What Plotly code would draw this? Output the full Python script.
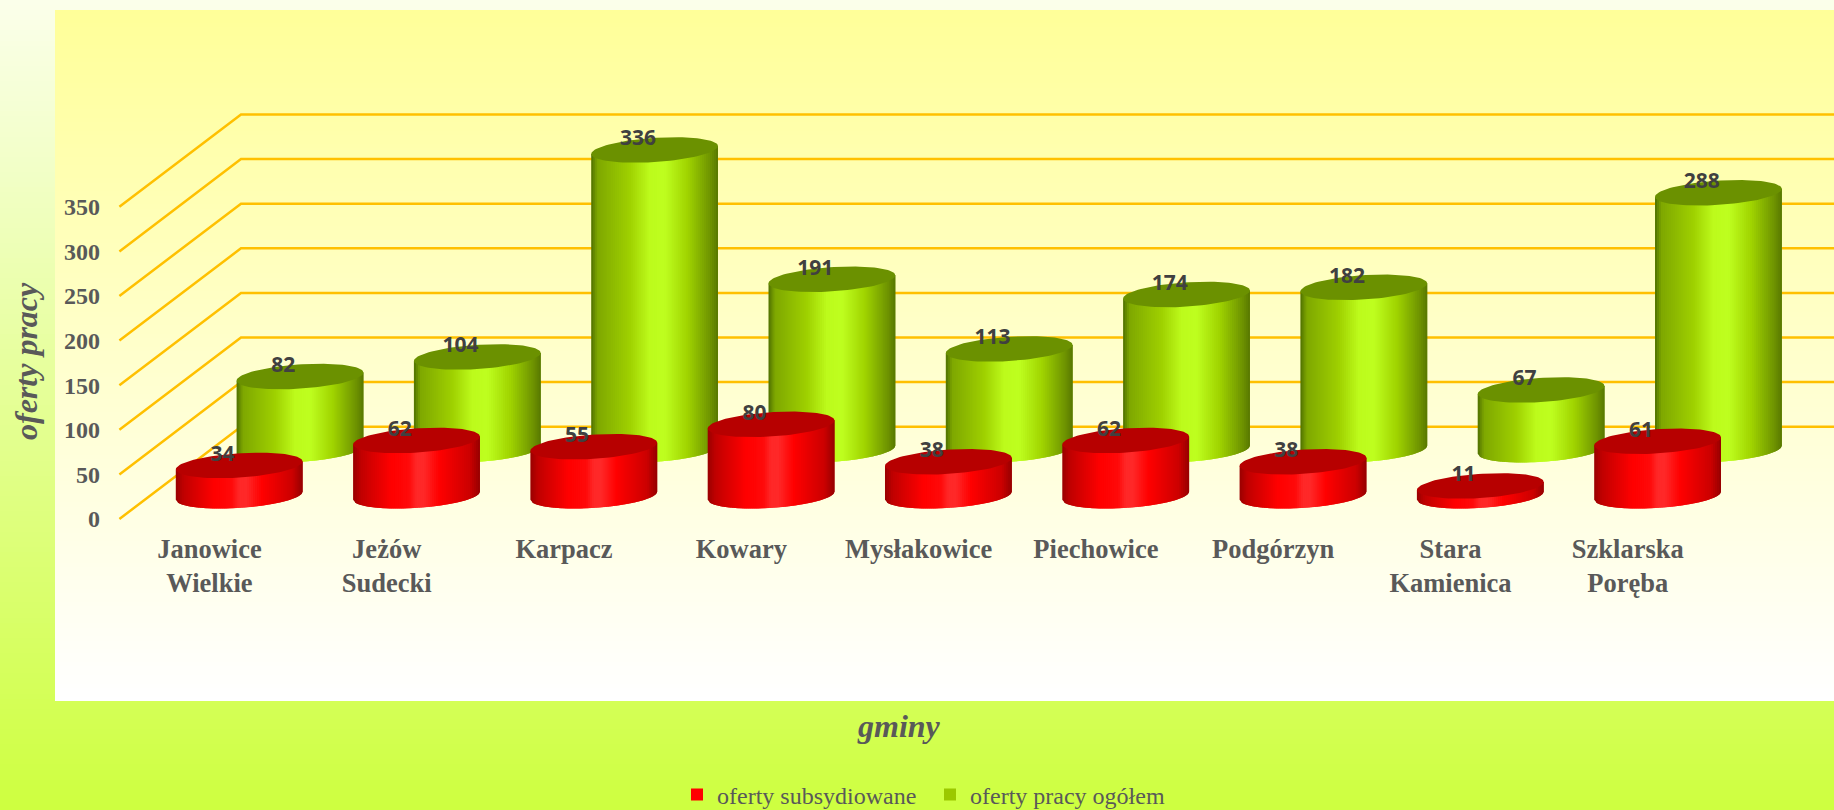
import numpy as np
import plotly.graph_objects as go

# ---------- data ----------
categories = ["Janowice<br>Wielkie", "Jeżów<br>Sudecki", "Karpacz", "Kowary", "Mysłakowice",
              "Piechowice", "Podgórzyn", "Stara<br>Kamienica", "Szklarska<br>Poręba"]
subsidised = [34, 62, 55, 80, 38, 62, 38, 11, 61]
total_offers = [82, 104, 336, 191, 113, 174, 182, 67, 288]
y_ticks = [0, 50, 100, 150, 200, 250, 300, 350]
series_names = ["oferty subsydiowane", "oferty pracy ogółem"]

# ---------- page geometry ----------
W, H = 1834, 810
X_UNIT = 177.3      # px per category
Y_UNIT = 0.892      # px per value unit
X0_PX, Y0_PX = 209.4, 519.0   # pixel of category 0 and value 0
x_range = [-X0_PX / X_UNIT, (W - X0_PX) / X_UNIT]
y_range = [-(H - Y0_PX) / Y_UNIT, Y0_PX / Y_UNIT]

DEPTH_X = 121.6 / X_UNIT
DEPTH_Y = 92.3 / Y_UNIT
FLOOR_LEFT = (119.4 - X0_PX) / X_UNIT
HALF_W = 63.4 / X_UNIT
ELL_H = 13.6        # value units, half-height of the ellipse
SHEAR = 4.5         # value units, rise of right end of the ellipse
N_BANDS = 64

GREEN_STYLE = dict(offset=0.511, base=77.7, top="#6B9100",
                   stops=[(0, "#4F7000"), (0.05, "#7FA800"), (0.3, "#9FD000"), (0.46, "#BDFB1C"),
                          (0.58, "#BFFF20"), (0.76, "#A0D400"), (0.95, "#6C9000"), (1, "#587800")])
RED_STYLE = dict(offset=0.168, base=26.1, top="#B70000",
                 stops=[(0, "#9A0000"), (0.06, "#C00000"), (0.3, "#FF0000"), (0.44, "#FF0A0A"),
                        (0.5, "#FF2828"), (0.56, "#FF2828"), (0.68, "#FF0000"), (0.92, "#CC0000"), (1, "#960000")])


def hex_rgb(c):
    return np.array([int(c[i:i + 2], 16) for i in (1, 3, 5)], float)


def band_colour(stops, f):
    p = [s[0] for s in stops]
    cols = np.array([hex_rgb(s[1]) for s in stops])
    return "rgb(%d,%d,%d)" % tuple(np.interp(f, p, cols[:, i]) for i in range(3))


def mix(c0, c1, n):
    a, b = hex_rgb(c0), hex_rgb(c1)
    return [[i / (n - 1), "rgb(%d,%d,%d)" % tuple(a + (b - a) * i / (n - 1))] for i in (0, n - 1)]


fig = go.Figure()

# ---------- backgrounds (pixel axes x / y) ----------
rows = 160
fig.add_trace(go.Heatmap(x=[0, W], y=np.linspace(0, H, rows + 1).tolist(),
                         z=[[i] for i in range(rows)], colorscale=mix("#FBFFEA", "#CEFF40", 2),
                         showscale=False, hoverinfo="skip", xaxis="x", yaxis="y"))
fig.add_trace(go.Heatmap(x=[55, W], y=np.linspace(10, 701, rows + 1).tolist(),
                         z=[[i] for i in range(rows)], colorscale=mix("#FFFF99", "#FFFFFF", 2),
                         showscale=False, hoverinfo="skip", xaxis="x", yaxis="y"))

# ---------- legend entries ----------
for name, colour in zip(series_names, ["#FF0000", "#9BC800"]):
    fig.add_trace(go.Scatter(x=[None], y=[None], mode="markers", name=name,
                             marker=dict(symbol="square", size=12, color=colour),
                             xaxis="x2", yaxis="y2"))

# ---------- grid walls ----------
gx, gy = [], []
for t in y_ticks:
    gx += [FLOOR_LEFT, FLOOR_LEFT + DEPTH_X, x_range[1], None]
    gy += [t, t + DEPTH_Y, t + DEPTH_Y, None]
fig.add_trace(go.Scatter(x=gx, y=gy, mode="lines", line=dict(color="#FFC000", width=2.5),
                         showlegend=False, hoverinfo="skip", xaxis="x2", yaxis="y2"))


def add_cylinders(values, style):
    centres = [i + style["offset"] for i in range(len(values))]
    edges = np.linspace(-1, 1, N_BANDS + 1)
    for k in range(N_BANDS):
        u0, u1 = edges[k], edges[min(k + 2, N_BANDS)]
        us = np.linspace(u0, u1, 4)
        xs, ys = [], []
        for c, v in zip(centres, values):
            bottom = style["base"] + SHEAR * us - ELL_H * np.sqrt(np.clip(1 - us ** 2, 0, 1))
            top = style["base"] + v + SHEAR * us
            xs += list(c + HALF_W * us) + list(c + HALF_W * us[::-1]) + [None]
            ys += list(bottom) + list(top[::-1]) + [None]
        fig.add_trace(go.Scatter(x=xs, y=ys, mode="lines", line=dict(width=0), fill="toself",
                                 fillcolor=band_colour(style["stops"], (k + 0.5) / N_BANDS),
                                 showlegend=False, hoverinfo="skip", xaxis="x2", yaxis="y2"))
    th = np.linspace(0, 2 * np.pi, 91)
    xs, ys = [], []
    for c, v in zip(centres, values):
        xs += list(c + HALF_W * np.cos(th)) + [None]
        ys += list(style["base"] + v + SHEAR * np.cos(th) + ELL_H * np.sin(th)) + [None]
    fig.add_trace(go.Scatter(x=xs, y=ys, mode="lines", line=dict(width=0), fill="toself",
                             fillcolor=style["top"], showlegend=False, hoverinfo="skip",
                             xaxis="x2", yaxis="y2"))


add_cylinders(total_offers, GREEN_STYLE)
add_cylinders(subsidised, RED_STYLE)

# ---------- value labels ----------
for values, style in ((total_offers, GREEN_STYLE), (subsidised, RED_STYLE)):
    fig.add_trace(go.Scatter(
        x=[i + style["offset"] - 0.094 for i in range(len(values))],
        y=[style["base"] + v + 11 for v in values],
        mode="text", text=[str(v) for v in values], textposition="middle center",
        textfont=dict(family="Noto Sans", size=21, color="#404040", weight=700),
        showlegend=False, hoverinfo="skip", xaxis="x2", yaxis="y2"))

# ---------- layout ----------
fig.update_layout(
    width=W, height=H,
    margin=dict(l=0, r=0, t=0, b=0, pad=0, autoexpand=False),
    paper_bgcolor="#FFFFFF", plot_bgcolor="rgba(0,0,0,0)",
    hovermode=False,
    xaxis=dict(domain=[0, 1], range=[0, W], visible=False, fixedrange=True),
    yaxis=dict(domain=[0, 1], range=[H, 0], visible=False, fixedrange=True),
    xaxis2=dict(overlaying="x", anchor="free", position=1 - 530.5 / H, range=x_range,
                tickmode="array", tickvals=list(range(len(categories))), ticktext=categories,
                tickfont=dict(family="Liberation Serif", size=26.5, color="#595959", weight=700),
                ticks="", showgrid=False, zeroline=False, showline=False, fixedrange=True),
    yaxis2=dict(overlaying="y", anchor="free", position=100 / W, side="left", range=y_range,
                tickmode="array", tickvals=y_ticks,
                tickfont=dict(family="Liberation Serif", size=24, color="#595959", weight=700),
                ticks="", showgrid=False, zeroline=False, showline=False, fixedrange=True),
    legend=dict(orientation="h", x=677 / W, xanchor="left", y=1 - 772.5 / H, yanchor="top",
                font=dict(family="Liberation Serif", size=24, color="#595959"),
                bgcolor="rgba(0,0,0,0)", entrywidthmode="pixels", entrywidth=208,
                itemclick=False, itemdoubleclick=False),
    annotations=[
        dict(text="oferty pracy", xref="paper", yref="paper", x=26 / W, y=1 - 361 / H, textangle=-90,
             showarrow=False, xanchor="center", yanchor="middle",
             font=dict(family="Liberation Serif", size=32, color="#595959", weight=700, style="italic")),
        dict(text="gminy", xref="paper", yref="paper", x=899 / W, y=1 - 726 / H,
             showarrow=False, xanchor="center", yanchor="middle",
             font=dict(family="Liberation Serif", size=32, color="#595959", weight=700, style="italic")),
    ],
)

fig.write_html("out.html", config={"displayModeBar": False},
               post_script="document.body.style.margin='0';document.documentElement.style.overflow='hidden';")
